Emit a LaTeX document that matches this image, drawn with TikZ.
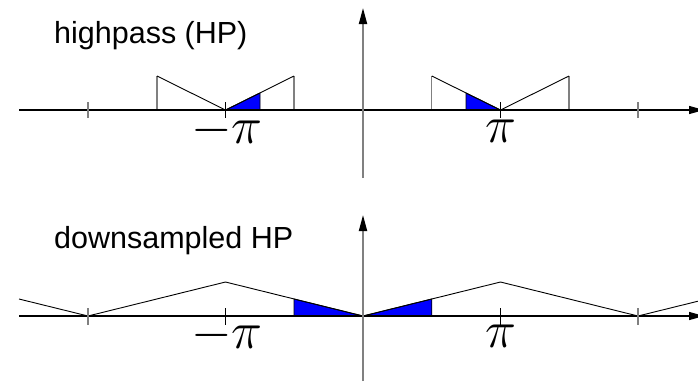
\documentclass[tikz,border=0pt]{standalone}
\usepackage{fontspec}
\setmainfont{Liberation Sans}
\usetikzlibrary{arrows.meta}
\begin{document}
\begin{tikzpicture}[x=1pt,y=-1pt,
  haxis/.style={line width=1.3pt,-{Triangle[length=15pt,width=8pt]}},
  vaxis/.style={draw=gray,line width=1.8pt,-{Triangle[length=16pt,width=8pt,color=black]}},
  curve/.style={line width=0.9pt,line join=miter},
  edge/.style={draw=gray,line width=1.1pt},
  tickg/.style={draw=gray,line width=1.1pt},
  tickb/.style={draw=black,line width=1pt},
  band/.style={fill=blue,draw=black,line width=0.8pt},
  title/.style={anchor=base west,inner sep=0pt,font=\fontsize{30.5}{36}\selectfont},
  pilabel/.style={anchor=base,inner sep=0pt,scale=2.1,font=\Huge}]
\useasboundingbox (0,0) rectangle (698,381);
% ---------- top: highpass ----------
\node[title] (t1) at (54,43) {highpass (HP)};
\draw[band] (225.5,110) -- (260,93) -- (260,110) -- cycle;
\draw[band] (466,93) -- (500.5,110) -- (466,110) -- cycle;
\draw[edge] (157,110) -- (157,76);
\draw[edge] (294,110) -- (294,76);
\draw[edge] (431.75,110) -- (431.75,76);
\draw[edge] (569,110) -- (569,76);
\draw[curve] (157,76) -- (225.5,110) -- (294,76);
\draw[curve] (431.75,76) -- (500.5,110) -- (569,76);
\draw[haxis] (19,110) -- (704,110);
\draw[vaxis] (363,178) -- (363,8);
\draw[tickg] (88,102) -- (88,118);
\draw[tickb] (225.5,102) -- (225.5,118);
\draw[tickb] (500.5,102) -- (500.5,118);
\draw[tickg] (638,102) -- (638,118);
\node[pilabel] (mpi1) at (227,143) {$-\pi$};
\node[pilabel] (pi1) at (500.5,142) {$\pi$};
% ---------- bottom: downsampled ----------
\node[title] (t2) at (54,248) {downsampled HP};
\draw[band] (294,299) -- (363,316) -- (294,316) -- cycle;
\draw[band] (363,316) -- (431.75,299) -- (431.75,316) -- cycle;
\draw[curve] (19,299) -- (88,316) -- (225.5,282) -- (363,316) -- (500.5,282) -- (638,316) -- (698,301.2);
\draw[haxis] (19,316) -- (704,316);
\draw[vaxis] (363,381) -- (363,215);
\draw[tickg] (88,308) -- (88,325);
\draw[tickb] (225.5,308) -- (225.5,325);
\draw[tickb] (500.5,308) -- (500.5,325);
\draw[tickg] (638,308) -- (638,325);
\node[pilabel] (mpi2) at (227,348) {$-\pi$};
\node[pilabel] (pi2) at (500.5,347) {$\pi$};
\end{tikzpicture}
\end{document}
